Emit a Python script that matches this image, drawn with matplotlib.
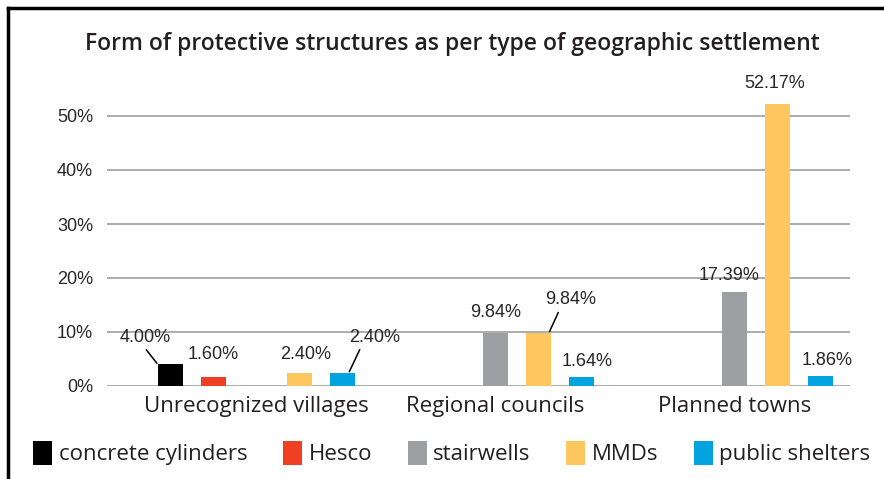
import numpy as np
import matplotlib.pyplot as plt
from matplotlib.patches import Patch
from matplotlib.lines import Line2D

categories = ['Unrecognized villages', 'Regional councils', 'Planned towns']
series = ['concrete cylinders', 'Hesco', 'stairwells', 'MMDs', 'public shelters']
colors = ['#000000', '#ee4123', '#9d9fa2', '#fdc65e', '#00a3e0']

concrete = [4.00, 0, 0]
hesco = [1.60, 0, 0]
stairwells = [0, 9.84, 17.39]
mmds = [2.40, 9.84, 52.17]
shelters = [2.40, 1.64, 1.86]
values = [concrete, hesco, stairwells, mmds, shelters]
y_ticks = [0, 10, 20, 30, 40, 50]

# label placement (pixel offsets from bar top), leader lines where the original has them
# key: (series index, category index) -> (dx, dy, line anchor as fraction of bar width, relpos x)
label_pos = {
    (0, 0): (-25, 27, -0.5, 0.46),
    (1, 0): (0, 23, None, None),
    (3, 0): (6, 19, None, None),
    (4, 0): (32, 36, 0.25, 0.25),
    (2, 1): (0, 20, None, None),
    (3, 1): (32, 33, 0.42, 0.3),
    (4, 1): (6, 16, None, None),
    (2, 2): (-5, 17, None, None),
    (3, 2): (-3, 21, None, None),
    (4, 2): (7, 15, None, None),
}

W, H = 884, 479
fig = plt.figure(figsize=(W / 100, H / 100), dpi=100)
ax = fig.add_axes([107 / W, (H - 386) / H, 743 / W, (386 - 89) / H])

txt = '#231f20'
slot = 0.18
bw = 0.105
x = np.arange(len(categories))
for i, (vals, c) in enumerate(zip(values, colors)):
    xs = x + (i - 2) * slot
    for j, v in enumerate(vals):
        if v <= 0:
            continue
        ax.bar(xs[j], v, width=bw, color=c, zorder=3)
        dx, dy, anchor, rp = label_pos[(i, j)]
        if anchor is None:
            ax.annotate(f'{v:.2f}%', (xs[j], v), xytext=(dx, dy), textcoords='offset pixels',
                        ha='center', va='center', fontsize=13, color='#262626',
                        family='Liberation Sans')
        else:
            ax0 = xs[j] + anchor * bw
            ax.annotate(f'{v:.2f}%', (ax0, v), xytext=(dx - anchor * 25, dy),
                        textcoords='offset pixels', ha='center', va='center', fontsize=13,
                        color='#262626', family='Liberation Sans',
                        arrowprops=dict(arrowstyle='-', color='black', lw=1.1,
                                        shrinkA=1, shrinkB=1, relpos=(rp, 0)))

ax.set_xlim(-0.625, 2.484)
ax.set_ylim(0, 55)
ax.set_yticks(y_ticks)
ax.set_yticklabels([f'{t}%' for t in y_ticks], fontsize=13, color='#262626', family='Liberation Sans')
ax.set_xticks(x)
ax.set_xticklabels(categories, fontsize=16, color=txt, family='Open Sans')
ax.tick_params(length=0, pad=10)
ax.tick_params(axis='x', pad=7)
ax.grid(axis='y', color='#a6a6a6', lw=1.3, zorder=0)
for s in ax.spines.values():
    s.set_visible(False)

fig.text(452 / W, 1 - 44 / H, 'Form of protective structures as per type of geographic settlement',
         ha='center', va='center', fontsize=16.5, fontweight='semibold', color=txt, family='Open Sans')

handles = [Patch(facecolor=c) for c in colors]
fig.legend(handles, series, loc='center', bbox_to_anchor=(452 / W, 1 - 453 / H), ncol=5,
           frameon=False, prop={'family': 'Open Sans', 'size': 16}, labelcolor=txt,
           handlelength=0.85, handleheight=1.3, handletextpad=0.3, columnspacing=1.6)

# frame on top and left
fig.add_artist(Line2D([8 / W, 1], [1 - 8 / H, 1 - 8 / H], color='black', lw=2.5))
fig.add_artist(Line2D([8 / W, 8 / W], [0, 1 - 8 / H], color='black', lw=2.5))

fig.savefig('out.png', dpi=100)
